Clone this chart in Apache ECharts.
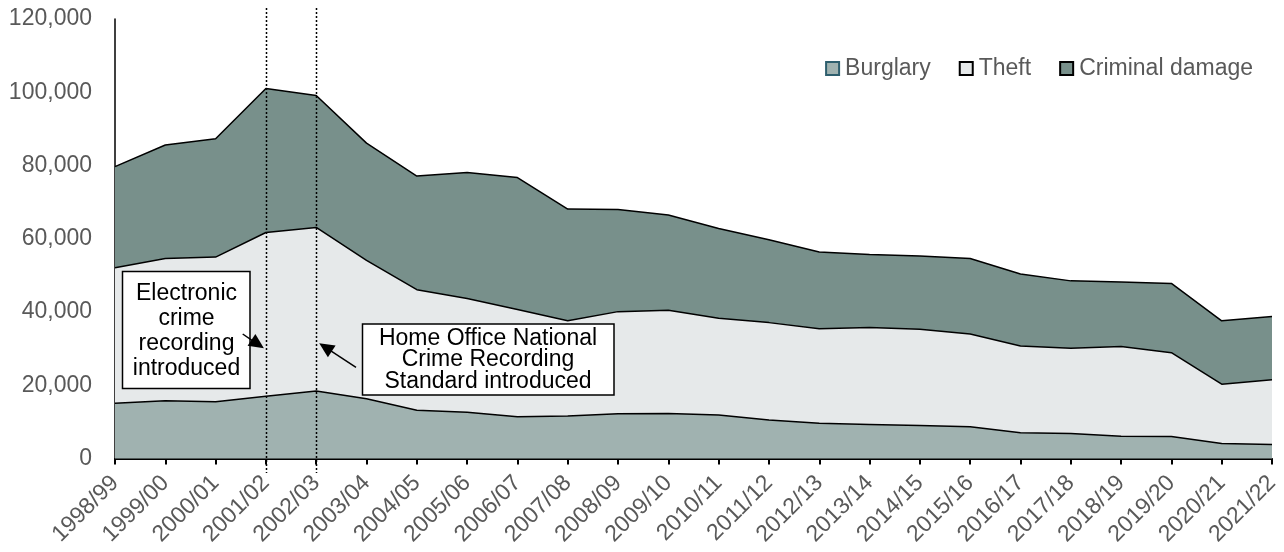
<!DOCTYPE html>
<html>
<head>
<meta charset="utf-8">
<script src="https://cdn.jsdelivr.net/npm/echarts@6/dist/echarts.min.js"></script>
<style>
html,body{margin:0;padding:0;background:#fff;}
#chart{width:1284px;height:552px;}
</style>
</head>
<body>
<div id="chart"></div>
<script>
const categories = ['1998/99','1999/00','2000/01','2001/02','2002/03','2003/04','2004/05','2005/06','2006/07','2007/08','2008/09','2009/10','2010/11','2011/12','2012/13','2013/14','2014/15','2015/16','2016/17','2017/18','2018/19','2019/20','2020/21','2021/22'];
const burglary = [15100,15800,15500,17000,18400,16300,13200,12600,11400,11600,12200,12300,11900,10500,9600,9300,9000,8700,7000,6800,6100,6000,4100,3800];
const theft = [37000,38800,39500,44700,44700,37800,32900,31100,29300,26000,27900,28200,26400,26600,25800,26500,26300,25300,23700,23300,24500,22900,16200,17700];
const criminalDamage = [27600,31000,32300,39300,36000,32000,31000,34400,36000,30500,27900,26000,24500,22600,21000,19900,20000,20600,19700,18400,17600,18900,17300,17300];
const yTicks = [0,20000,40000,60000,80000,100000,120000];
const markerCategories = ['2001/02','2002/03'];
const noteElectronic = 'Electronic\ncrime\nrecording\nintroduced';
const noteNCRS = 'Home Office National\nCrime Recording\nStandard introduced';

const FONT = '"Liberation Sans", Arial, sans-serif';
const chart = echarts.init(document.getElementById('chart'), null, {renderer:'canvas'});

const fills = {Burglary:'#a0b2b0', Theft:'#e6e9ea', 'Criminal damage':'#78908b'};
function areaSeries(name, data, z){
  return {
    name, type:'line', stack:'total', data, z,
    symbol:'none', showSymbol:false,
    lineStyle:{color:'#000', width:1.5},
    itemStyle:{color:fills[name]},
    areaStyle:{color:fills[name], opacity:1},
    emphasis:{disabled:true}
  };
}

chart.setOption({
  animation:false,
  backgroundColor:'#fff',
  textStyle:{fontFamily:FONT},
  grid:{left:115, right:12, top:19, bottom:93.5, containLabel:false},
  legend:{
    right:26, top:52, itemWidth:13, itemHeight:13, itemGap:28,
    icon:'rect',
    textStyle:{fontFamily:FONT, fontSize:23, color:'#595959', padding:[0,0,0,1]},
    data:[
      {name:'Burglary', itemStyle:{color:fills.Burglary, borderColor:'#2d5e6d', borderWidth:2}},
      {name:'Theft', itemStyle:{color:fills.Theft, borderColor:'#000', borderWidth:2}},
      {name:'Criminal damage', itemStyle:{color:fills['Criminal damage'], borderColor:'#000', borderWidth:2}}
    ]
  },
  xAxis:{
    type:'category', data:categories, boundaryGap:false,
    axisLine:{lineStyle:{color:'#000', width:2}},
    axisTick:{show:true, length:6, lineStyle:{color:'#000', width:2}},
    axisLabel:{rotate:45, fontSize:23, color:'#595959', fontFamily:FONT, margin:21, interval:0},
    splitLine:{show:false}
  },
  yAxis:{
    type:'value', min:0, max:120000, interval:20000,
    axisLine:{show:true, lineStyle:{color:'#000', width:1.5}},
    axisTick:{show:false},
    splitLine:{show:false},
    axisLabel:{fontSize:23, color:'#595959', fontFamily:FONT, margin:23,
      formatter:v=>v.toLocaleString('en-GB')}
  },
  series:[
    areaSeries('Burglary', burglary, 4),
    areaSeries('Theft', theft, 3),
    areaSeries('Criminal damage', criminalDamage, 2)
  ]
});

function px(cat, val){ return chart.convertToPixel({xAxisIndex:0, yAxisIndex:0}, [cat, val]); }
function arrow(tail, tip, len, hw){
  const dx = tip[0]-tail[0], dy = tip[1]-tail[1];
  const L = Math.hypot(dx,dy), ux = dx/L, uy = dy/L;
  const bx = tip[0]-ux*len, by = tip[1]-uy*len;
  return [
    {type:'line', z:100, shape:{x1:tail[0], y1:tail[1], x2:bx+ux*2, y2:by+uy*2}, style:{stroke:'#000', lineWidth:1.5}},
    {type:'polygon', z:100, shape:{points:[tip,[bx-uy*hw, by+ux*hw],[bx+uy*hw, by-ux*hw]]}, style:{fill:'#000'}}
  ];
}

const graphics = [];
markerCategories.forEach(c=>{
  const x = Math.round(px(c,0)[0]) + 0.5;
  graphics.push({type:'line', z:90, shape:{x1:x, y1:8, x2:x, y2:473},
    style:{stroke:'#000', lineWidth:1.5, lineDash:[2,2]}});
});
// Electronic crime recording box
graphics.push({type:'rect', z:100, shape:{x:122.5, y:271.5, width:127.5, height:117},
  style:{fill:'#fff', stroke:'#000', lineWidth:1.5}});
graphics.push({type:'text', z:101, x:186.5, y:331,
  style:{text:noteElectronic, font:'23px '+FONT, fill:'#000', align:'center', verticalAlign:'middle', lineHeight:25}});
// NCRS box
graphics.push({type:'rect', z:100, shape:{x:362.5, y:324, width:251.5, height:71},
  style:{fill:'#fff', stroke:'#000', lineWidth:1.5}});
graphics.push({type:'text', z:101, x:488, y:360,
  style:{text:noteNCRS, font:'23px '+FONT, fill:'#000', align:'center', verticalAlign:'middle', lineHeight:21.7}});
// arrows pointing to the marker lines
const tip1 = px(markerCategories[0], 30100); tip1[0] -= 2;
const tip2 = px(markerCategories[1], 31500); tip2[0] += 3;
arrow([242.7,334], tip1, 15, 7).forEach(g=>graphics.push(g));
arrow([356,367.3], tip2, 15, 7).forEach(g=>graphics.push(g));
chart.setOption({graphic:graphics});
</script>
</body>
</html>
